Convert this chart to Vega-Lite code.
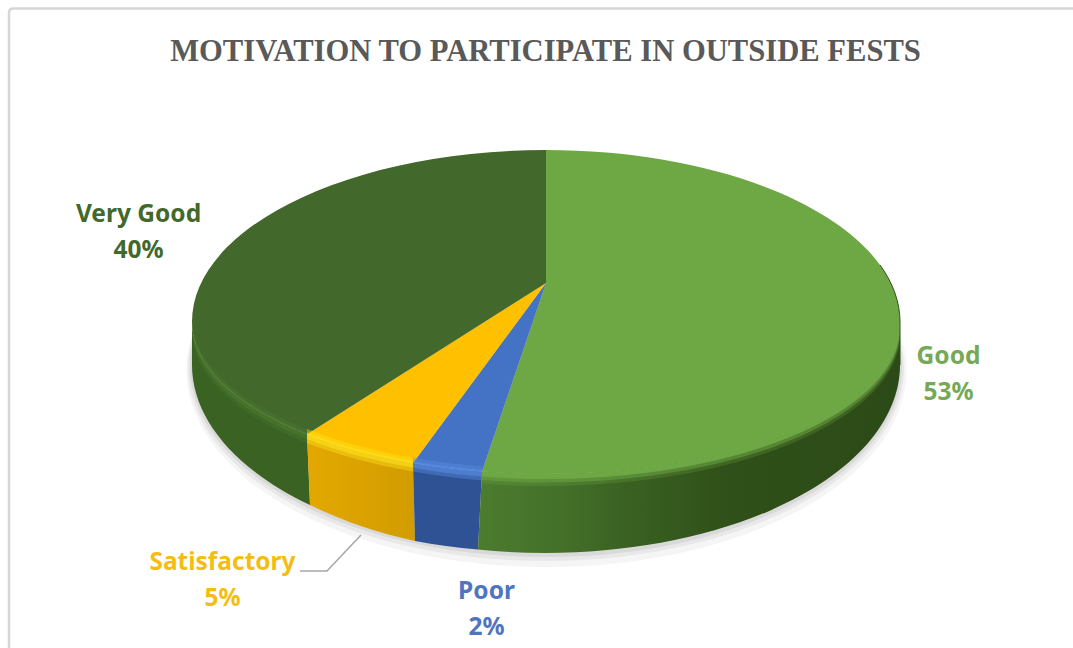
{
"$schema":"https://vega.github.io/schema/vega-lite/v6.json",
"autosize":{"type":"none"},
"padding":{"top":70,"bottom":70,"left":0,"right":0},
"width":1073,"height":508,
"background":"white",
"view":{"stroke":null},
"title":{"text":"MOTIVATION TO PARTICIPATE IN OUTSIDE FESTS","font":"Liberation Serif","fontSize":30.6,"fontWeight":"bold","color":"#595959","anchor":"middle","dx":9,"offset":-64},
"data":{"values":[
{"category":"Good","share":53},
{"category":"Poor","share":2},
{"category":"Satisfactory","share":5},
{"category":"Very Good","share":40}]},
"transform":[{"calculate":"[datum.category, datum.share + '%']","as":"label"}],
"resolve":{"scale":{"shape":"independent","color":"independent"}},
"layer":[
{"transform":[{"filter":"datum.category==='Good'"}],"mark":{"type":"point","filled":false,"size":4,"stroke":"#d6d6d6","strokeWidth":2.5,"opacity":1,"fill":null,"shape":"M -527.5 324 L -527.5 -311 Q -527.5 -315.5 -523 -315.5 L 537 -315.5"}},
{"transform":[{"filter":"datum.category==='Good'"}],"mark":{"type":"point","filled":true,"size":4,"opacity":0.05,"color":"#404040","shape":"M -350 46 A 360 197 0 1 0 370 46 A 360 197 0 1 0 -350 46 Z"}},
{"transform":[{"filter":"datum.category==='Good'"}],"mark":{"type":"point","filled":true,"size":4,"opacity":0.07,"color":"#404040","shape":"M -348.5 44 A 358 193 0 1 0 367.5 44 A 358 193 0 1 0 -348.5 44 Z"}},
{"transform":[{"filter":"datum.category==='Good'"}],"mark":{"type":"point","filled":true,"size":4,"opacity":0.09,"color":"#404040","shape":"M -346.5 42 A 356 191 0 1 0 365.5 42 A 356 191 0 1 0 -346.5 42 Z"}},
{"transform":[{"filter":"datum.category==='Very Good'"}],"mark":{"type":"point","filled":true,"size":4,"opacity":1,"fill":"#3a6223","shape":"M -344.5 -2 A 354 152 0 0 0 -229.5 110.2 L -226.5 181 A 354 188 0 0 1 -344.5 41 Z"}},
{"transform":[{"filter":"datum.category==='Satisfactory'"}],"mark":{"type":"point","filled":true,"size":4,"opacity":1,"fill":{"gradient":"linear","x1":0,"y1":0,"x2":1,"y2":0,"stops":[{"offset":0,"color":"#e3a800"},{"offset":1,"color":"#d29c00"}]},"shape":"M -229.5 110.2 A 354 152 0 0 0 -123.5 138.9 L -121.5 217 A 354 188 0 0 1 -226.5 181 Z"}},
{"transform":[{"filter":"datum.category==='Poor'"}],"mark":{"type":"point","filled":true,"size":4,"opacity":1,"fill":"#2f5294","shape":"M -123.5 138.9 A 354 152 0 0 0 -54.5 147.5 L -58.5 225.5 A 354 188 0 0 1 -121.5 217 Z"}},
{"transform":[{"filter":"datum.category==='Good'"}],"mark":{"type":"point","filled":true,"size":4,"opacity":1,"fill":{"gradient":"linear","x1":0,"y1":0,"x2":1,"y2":0,"stops":[{"offset":0,"color":"#4c7c2e"},{"offset":0.2,"color":"#44702a"},{"offset":0.35,"color":"#3a6122"},{"offset":0.6,"color":"#2f5019"},{"offset":1,"color":"#2c4a17"}]},"shape":"M -54.5 147.5 A 354 152 0 0 0 363.5 -2 L 363.5 41 A 354 188 0 0 1 -58.5 225.5 Z"}},
{"mark":{"type":"point","filled":true,"size":4,"opacity":1},
 "encoding":{
  "shape":{"field":"category","type":"nominal","legend":null,"scale":{"domain":["Good","Poor","Satisfactory","Very Good"],"range":[
   "M 9.5 -41 L 9.5 -174 A 354 172 0 0 1 363.5 -2 A 354 152 0 0 1 -54.5 147.5 Z",
   "M 9.5 -41 L -54.5 147.5 A 354 152 0 0 1 -123.5 138.9 Z",
   "M 9.5 -41 L -123.5 138.9 A 354 152 0 0 1 -229.5 110.2 Z",
   "M 9.5 -41 L -229.5 110.2 A 354 152 0 0 1 -344.5 -2 A 354 172 0 0 1 9.5 -174 Z"]}},
  "color":{"field":"category","type":"nominal","legend":null,"scale":{"domain":["Good","Poor","Satisfactory","Very Good"],"range":["#6ea845","#4472c4","#ffc000","#43682b"]}}}},
{"transform":[{"filter":"datum.category==='Very Good'"}],"mark":{"type":"point","filled":true,"size":4,"opacity":0.22,"fill":"#548537","shape":"M -344.5 -6 A 354 152 0 0 0 -229.5 105 L -229.5 119 A 354 152 0 0 1 -344.5 8 Z"}},
{"transform":[{"filter":"datum.category==='Very Good'"}],"mark":{"type":"point","filled":true,"size":4,"opacity":0.35,"fill":"#548537","shape":"M -344.5 -3 A 354 152 0 0 0 -229.5 108.5 L -229.5 115 A 354 152 0 0 1 -344.5 4 Z"}},
{"transform":[{"filter":"datum.category==='Satisfactory'"}],"mark":{"type":"point","filled":true,"size":4,"opacity":0.4,"fill":"#ffe61e","shape":"M -229.5 105 A 354 152 0 0 0 -123.5 133.7 L -123.5 147.5 A 354 152 0 0 1 -229.5 119 Z"}},
{"transform":[{"filter":"datum.category==='Satisfactory'"}],"mark":{"type":"point","filled":true,"size":4,"opacity":0.5,"fill":"#ffe61e","shape":"M -229.5 108.5 A 354 152 0 0 0 -123.5 137.2 L -123.5 143.7 A 354 152 0 0 1 -229.5 115 Z"}},
{"transform":[{"filter":"datum.category==='Poor'"}],"mark":{"type":"point","filled":true,"size":4,"opacity":0.4,"fill":"#5c8fe6","shape":"M -123.5 133.7 A 354 152 0 0 0 -54.5 142.3 L -54.5 156.5 A 354 152 0 0 1 -123.5 147.5 Z"}},
{"transform":[{"filter":"datum.category==='Poor'"}],"mark":{"type":"point","filled":true,"size":4,"opacity":0.5,"fill":"#5c8fe6","shape":"M -123.5 137.2 A 354 152 0 0 0 -54.5 145.8 L -54.5 152.5 A 354 152 0 0 1 -123.5 143.7 Z"}},
{"transform":[{"filter":"datum.category==='Good'"}],"mark":{"type":"point","filled":true,"size":4,"opacity":0.25,"fill":"#6ea845","shape":"M -54.5 147.5 A 354 152 0 0 0 363.5 -2 L 363.5 6 A 354 152 0 0 1 -54.5 159.5 Z"}},
{"transform":[{"filter":"datum.category==='Good'"}],"mark":{"type":"point","filled":true,"size":4,"opacity":0.5,"fill":"#6ea845","shape":"M -54.5 147.5 A 354 152 0 0 0 363.5 -2 L 363.5 3 A 354 152 0 0 1 -54.5 156 Z"}},
{"transform":[{"filter":"datum.category==='Good'"}],"mark":{"type":"point","filled":true,"size":4,"opacity":1,"fill":"#6ea845","shape":"M -54.5 147.5 A 354 152 0 0 0 363.5 -2 L 363.5 0 A 354 152 0 0 1 -54.5 152.5 Z"}},
{"transform":[{"filter":"datum.category==='Good'"}],"mark":{"type":"point","filled":false,"size":4,"stroke":"#2f5019","strokeWidth":1,"opacity":1,"fill":null,"shape":"M 343.5 -59 A 354 172 0 0 1 363.5 -2 L 363.5 41"}},
{"transform":[{"filter":"datum.category==='Satisfactory'"}],"mark":{"type":"point","filled":false,"size":4,"stroke":"#a6a6a6","strokeWidth":1.5,"opacity":1,"fill":null,"shape":"M -175.5 211 L -209.5 247 L -236.5 247"}},
{"transform":[{"filter":"datum.category==='Very Good'"}],"mark":{"type":"text","font":"Noto Sans","fontSize":24.5,"fontWeight":"bold","lineHeight":36,"color":"#43682b","dx":-398,"dy":-109},"encoding":{"text":{"field":"label"}}},
{"transform":[{"filter":"datum.category==='Good'"}],"mark":{"type":"text","font":"Noto Sans","fontSize":24.5,"fontWeight":"bold","lineHeight":36,"color":"#76a957","dx":412,"dy":33},"encoding":{"text":{"field":"label"}}},
{"transform":[{"filter":"datum.category==='Satisfactory'"}],"mark":{"type":"text","font":"Noto Sans","fontSize":24.5,"fontWeight":"bold","lineHeight":36,"color":"#f5bd12","dx":-314,"dy":239},"encoding":{"text":{"field":"label"}}},
{"transform":[{"filter":"datum.category==='Poor'"}],"mark":{"type":"text","font":"Noto Sans","fontSize":24.5,"fontWeight":"bold","lineHeight":36,"color":"#4f74c0","dx":-50,"dy":268},"encoding":{"text":{"field":"label"}}}
]}
